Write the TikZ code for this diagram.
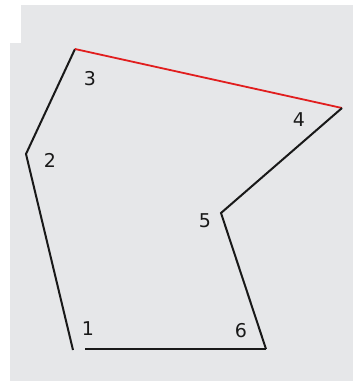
\documentclass[tikz,border=0pt]{standalone}
\usepackage{fontspec}
\setmainfont{DejaVu Sans}
\definecolor{bg}{RGB}{230,231,233}
\definecolor{edgered}{RGB}{225,30,30}
\begin{document}
\begin{tikzpicture}[x=1pt,y=-1pt,
  edge/.style={line width=2pt,draw=black!90,line join=miter},
  rededge/.style={line width=1.8pt,draw=edgered},
  lab/.style={font=\fontsize{19}{19}\selectfont,text=black!90,inner sep=0pt}]
\useasboundingbox (0,0) rectangle (353,381);
\fill[white] (0,0) rectangle (353,381);
\fill[bg] (21,5) -- (353,5) -- (353,381) -- (10,381) -- (10,43) -- (21,43) -- cycle;
\coordinate (p1) at (73,350);
\coordinate (p2) at (26,154);
\coordinate (p3) at (75,49);
\coordinate (p4) at (342,108);
\coordinate (p5) at (221,213);
\coordinate (p6) at (266,349);
\coordinate (q) at (85,349);
\draw[edge] (p1) -- (p2) -- (p3);
\draw[rededge] (p3) -- (p4);
\draw[edge] (p4) -- (p5) -- (p6);
\draw[edge,line width=1.6pt] (p6) -- (q);
\node[lab] (l1) at (88,329) {1};
\node[lab] (l2) at (50,160) {2};
\node[lab] (l3) at (90,79) {3};
\node[lab] (l4) at (299,120) {4};
\node[lab] (l5) at (205,221) {5};
\node[lab] (l6) at (241,331) {6};
\end{tikzpicture}
\end{document}
